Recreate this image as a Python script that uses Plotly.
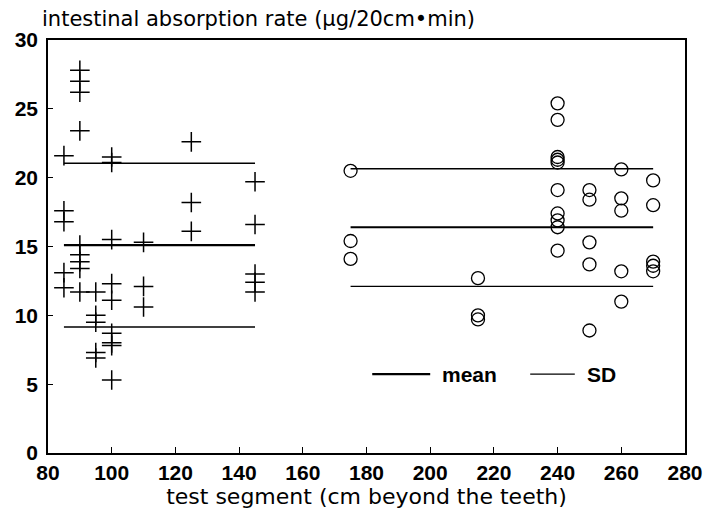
import plotly.graph_objects as go

# Crosses (left group): test segment (cm) and absorption rate
left_x = [85, 85, 85, 85, 85,
          90, 90, 90, 90, 90, 90, 90, 90, 90,
          95, 95, 95, 95, 95,
          100, 100, 100, 100, 100, 100, 100, 100, 100,
          110, 110, 110,
          125, 125, 125,
          145, 145, 145, 145, 145]
left_y = [21.6, 17.6, 16.8, 13.1, 12.0,
          27.8, 27.0, 26.2, 23.4, 15.1, 14.4, 13.9, 13.4, 11.7,
          11.7, 10.0, 9.5, 7.3, 6.9,
          21.5, 21.1, 15.5, 12.3, 11.1, 8.7, 8.0, 7.8, 5.3,
          15.3, 12.1, 10.6,
          22.6, 18.2, 16.1,
          19.7, 16.6, 13.0, 12.4, 11.7]

# Circles (right group)
right_x = [175, 175, 175,
           215, 215, 215,
           240, 240, 240, 240, 240, 240, 240, 240, 240, 240,
           250, 250, 250, 250, 250,
           260, 260, 260, 260, 260,
           270, 270, 270, 270, 270]
right_y = [20.5, 15.4, 14.1,
           12.7, 10.0, 9.7,
           25.4, 24.2, 21.5, 21.3, 21.1, 19.1, 17.4, 16.9, 16.4, 14.7,
           19.1, 18.4, 15.3, 13.7, 8.9,
           20.6, 18.5, 17.6, 13.2, 11.0,
           19.8, 18.0, 13.9, 13.6, 13.2]

# Group statistics (mean and mean +/- SD), with x extent of each group
group_x0 = [85, 175]
group_x1 = [145, 270]
group_mean = [15.1, 16.4]
group_sd_hi = [21.05, 20.65]
group_sd_lo = [9.15, 12.1]

x_ticks = [80, 100, 120, 140, 160, 180, 200, 220, 240, 260, 280]
y_ticks = [0, 5, 10, 15, 20, 25, 30]

legend_labels = ["mean", "SD"]

mean_x, mean_y, sd_x, sd_y = [], [], [], []
for x0, x1, m, hi, lo in zip(group_x0, group_x1, group_mean, group_sd_hi, group_sd_lo):
    mean_x += [x0, x1, None]
    mean_y += [m, m, None]
    sd_x += [x0, x1, None, x0, x1, None]
    sd_y += [hi, hi, None, lo, lo, None]

MEAN_W = 2.2
SD_W = 1.4

fig = go.Figure()
fig.add_trace(go.Scatter(x=mean_x, y=mean_y, mode="lines", name="mean",
                         showlegend=False, line=dict(color="black", width=MEAN_W)))
fig.add_trace(go.Scatter(x=sd_x, y=sd_y, mode="lines", name="SD",
                         showlegend=False, line=dict(color="black", width=SD_W)))
fig.add_trace(go.Scatter(x=left_x, y=left_y, mode="markers", showlegend=False,
                         marker=dict(symbol="cross-thin", size=14, color="black",
                                     line=dict(color="black", width=1.5))))
fig.add_trace(go.Scatter(x=right_x, y=right_y, mode="markers", showlegend=False,
                         marker=dict(symbol="circle-open", size=13, color="black",
                                     line=dict(color="black", width=1.3))))

tick_font = dict(size=21, family="Liberation Sans, Arial, sans-serif", weight="bold")
title_font = dict(size=22, family="DejaVu Sans, sans-serif")
ytitle_font = dict(size=21, family="DejaVu Sans, sans-serif")

# Manual legend inside the plot (line sample + label)
leg_y = 0.191
legend_items = [
    (legend_labels[0], 0.509, 0.600, 0.615, MEAN_W),
    (legend_labels[1], 0.757, 0.827, 0.843, SD_W),
]
shapes = []
annotations = []
for label, lx0, lx1, tx, w in legend_items:
    shapes.append(dict(type="line", xref="paper", yref="paper", x0=lx0, x1=lx1,
                       y0=leg_y, y1=leg_y, line=dict(color="black", width=w)))
    annotations.append(dict(text=label, xref="paper", yref="paper", x=tx, y=leg_y,
                            xanchor="left", yanchor="middle", showarrow=False,
                            font=tick_font))

annotations.append(dict(text="intestinal absorption rate (µg/20cm•min)",
                        xref="paper", yref="paper", x=-0.012, y=1.05,
                        xanchor="left", yanchor="middle", showarrow=False,
                        font=ytitle_font))

fig.update_layout(
    width=711, height=526,
    margin=dict(l=40, r=34, t=32, b=81),
    paper_bgcolor="white", plot_bgcolor="white",
    font=dict(family="Liberation Sans, Arial, sans-serif", color="black", size=17),
    showlegend=False,
    xaxis=dict(range=[80, 280], tickvals=x_ticks, ticks="inside", ticklen=6,
               tickwidth=1.2, tickcolor="black", showgrid=False, zeroline=False,
               showline=True, linecolor="black", linewidth=1.5, mirror=True,
               tickfont=tick_font, automargin=False,
               title=dict(text="test segment (cm beyond the teeth)", standoff=6,
                          font=title_font)),
    yaxis=dict(range=[0, 30], tickvals=y_ticks, ticks="inside", ticklen=5,
               tickwidth=1.2, tickcolor="black", showgrid=False, zeroline=False,
               showline=True, linecolor="black", linewidth=1.5, mirror=True,
               automargin=False, ticklabelstandoff=4, tickfont=tick_font),
    shapes=shapes,
    annotations=annotations,
)

fig.write_html("out.html")
